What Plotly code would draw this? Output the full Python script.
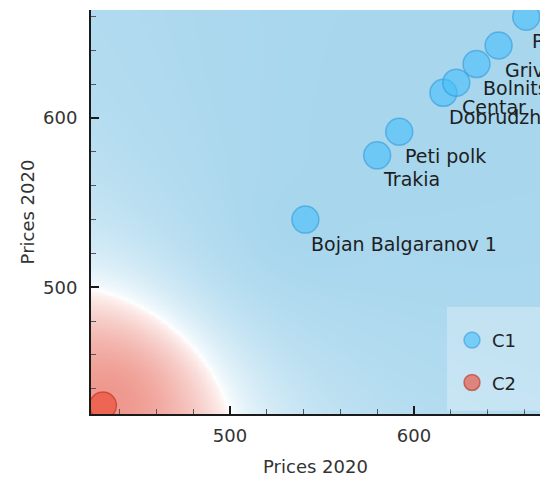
import numpy as np
import plotly.graph_objects as go

# Class C1 observations (district, price 2020 on both axes)
c1_names = ["Bojan Balgaranov 1", "Trakia", "Peti polk", "Dobrudzha",
            "Centar", "Bolnitsa", "Grivitsa", "Pazara"]
c1_x = [541, 580, 592, 616, 623, 634, 646, 661]
c1_y = [540, 578, 592, 615, 621, 632, 643, 660]

# Class C2 observations
c2_names = ["Zapad"]
c2_x = [431]
c2_y = [430]

x_range = [424.5, 668.5]
y_range = [425, 664]

# Class-density background: inverse-square distance weighted vote per grid cell
gx = np.linspace(x_range[0], x_range[1], 320)
gy = np.linspace(y_range[0], y_range[1], 320)
GX, GY = np.meshgrid(gx, gy)


def vote(xs, ys):
    w = np.zeros_like(GX)
    for a, b in zip(xs, ys):
        w += 1.0 / ((GX - a) ** 2 + (GY - b) ** 2 + 1e-6)
    return w


w1 = vote(c1_x, c1_y)
w2 = vote(c2_x, c2_y)
p1 = w1 / (w1 + w2)
s = 2 * p1 - 1
s = np.sign(s) * np.abs(s) ** 0.65

fig = go.Figure()
fig.add_trace(go.Heatmap(
    x=gx, y=gy, z=s, zmin=-1, zmax=1, zsmooth="best",
    colorscale=[[0, "rgb(238,150,140)"], [0.5, "rgb(255,255,255)"],
                [1, "rgb(167,214,237)"]],
    showscale=False, hoverinfo="skip", showlegend=False,
))

fig.add_trace(go.Scatter(
    x=c1_x, y=c1_y, mode="markers", name="C1", text=c1_names,
    legendgroup="c1",
    marker=dict(size=27, color="rgba(70,190,250,0.6)",
                line=dict(color="rgba(45,150,215,0.55)", width=1.5)),
))
fig.add_trace(go.Scatter(
    x=c2_x, y=c2_y, mode="markers", name="C2", text=c2_names,
    legendgroup="c2",
    marker=dict(size=27, color="rgba(237,70,47,0.6)",
                line=dict(color="rgba(190,45,30,0.6)", width=1.5)),
))

# Point labels, placed below-right of each marker
for name, x, y in zip(c1_names, c1_x, c1_y):
    fig.add_annotation(x=x, y=y, xref="x", yref="y", text=name,
                       showarrow=False, xanchor="left", yanchor="middle",
                       xshift=4, yshift=-24,
                       font=dict(family="DejaVu Sans", size=19, color="#1e1e1e"))

axis_common = dict(
    showgrid=False, zeroline=False, showline=True, linecolor="#1a1a1a",
    linewidth=2, ticks="inside", ticklen=8, tickwidth=1.5, tickcolor="#1a1a1a",
    tick0=0, dtick=100,
    minor=dict(ticks="inside", ticklen=5, tickwidth=1, tickcolor="#555",
               tick0=0, dtick=20),
    tickfont=dict(family="DejaVu Sans", size=18, color="#333"),
)

fig.update_layout(
    width=540, height=489,
    margin=dict(l=91, r=0, t=10, b=75),
    paper_bgcolor="white", plot_bgcolor="white",
    font=dict(family="DejaVu Sans", size=18, color="#333"),
    xaxis=dict(range=x_range, ticklabelstandoff=4,
               title=dict(text="Prices 2020", standoff=16,
                          font=dict(size=18, color="#333")),
               **axis_common),
    yaxis=dict(range=y_range, ticklabelstandoff=8,
               title=dict(text="Prices 2020", standoff=4,
                          font=dict(size=18, color="#333")),
               **axis_common),
    legend=dict(x=0.804, y=0.228, xanchor="left", yanchor="top",
                bgcolor="rgba(0,0,0,0)", tracegroupgap=16,
                font=dict(family="DejaVu Sans", size=18, color="#222")),
    shapes=[dict(type="rect", xref="paper", yref="paper",
                 x0=0.793, x1=1.0, y0=0.008, y1=0.265,
                 fillcolor="rgba(255,255,255,0.28)", line=dict(width=0),
                 layer="above")],
)

fig.write_html("out.html")
